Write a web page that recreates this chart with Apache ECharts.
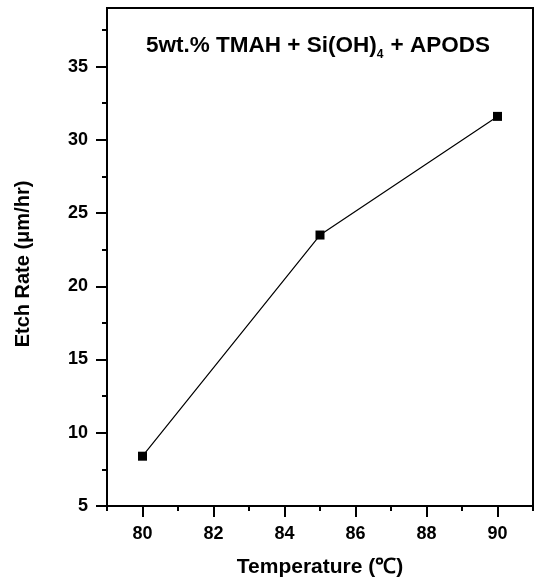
<!DOCTYPE html>
<html>
<head>
<meta charset="utf-8">
<script src="https://cdn.jsdelivr.net/npm/echarts@6/dist/echarts.min.js"></script>
<style>
html,body{margin:0;padding:0;background:#fff;}
#chart{width:538px;height:584px;}
</style>
</head>
<body>
<div id="chart"></div>
<script>
// Data
const temperatures = [80, 85, 90];
const etchRates = [8.4, 23.5, 31.6];
const xMajorTicks = [80, 82, 84, 86, 88, 90];
const xMinorTicks = [79, 81, 83, 85, 87, 89, 91];
const yMajorTicks = [5, 10, 15, 20, 25, 30, 35];
const yMinorTicks = [7.5, 12.5, 17.5, 22.5, 27.5, 32.5, 37.5];
const xName = 'Temperature (℃)';
const yName = 'Etch Rate (μm/hr)';

const FONT = '"Liberation Sans", Arial, Helvetica, sans-serif';
const chart = echarts.init(document.getElementById('chart'), null, {renderer: 'canvas'});

const gridCfg = {left: 107, right: 5, top: 8, bottom: 78};

chart.setOption({
  animation: false,
  backgroundColor: '#fff',
  grid: Object.assign({show: true, borderColor: '#000', borderWidth: 2, backgroundColor: 'transparent', containLabel: false}, gridCfg),
  xAxis: [{
    type: 'value', min: 79, max: 91, interval: 1,
    position: 'bottom',
    name: xName, nameLocation: 'middle', nameGap: 51,
    nameTextStyle: {fontFamily: FONT, fontWeight: 'bold', fontSize: 21, color: '#000'},
    axisLine: {show: true, onZero: false, lineStyle: {color: '#000', width: 2}},
    axisTick: {show: true, inside: false, length: 11, customValues: xMajorTicks, lineStyle: {color: '#000', width: 2}},
    axisLabel: {show: true, customValues: xMajorTicks, margin: 19, fontFamily: FONT, fontWeight: 'bold', fontSize: 18, color: '#000'},
    splitLine: {show: false}
  }, {
    type: 'value', min: 79, max: 91, interval: 1,
    position: 'bottom',
    axisLine: {show: false, onZero: false},
    axisTick: {show: true, inside: false, length: 5, customValues: xMinorTicks, lineStyle: {color: '#000', width: 2}},
    axisLabel: {show: false},
    splitLine: {show: false}
  }],
  yAxis: [{
    type: 'value', min: 5, max: 39, interval: 5,
    position: 'left',
    name: yName, nameLocation: 'middle', nameGap: 74, nameRotate: 90,
    nameTextStyle: {fontFamily: FONT, fontWeight: 'bold', fontSize: 20, color: '#000', padding: [0, 14, 0, 0]},
    axisLine: {show: true, onZero: false, lineStyle: {color: '#000', width: 2}},
    axisTick: {show: true, inside: false, length: 11, customValues: yMajorTicks, lineStyle: {color: '#000', width: 2}},
    axisLabel: {show: true, customValues: yMajorTicks, margin: 19, fontFamily: FONT, fontWeight: 'bold', fontSize: 18, color: '#000'},
    splitLine: {show: false}
  }, {
    type: 'value', min: 5, max: 39, interval: 5,
    position: 'left',
    axisLine: {show: false, onZero: false},
    axisTick: {show: true, inside: false, length: 5, customValues: yMinorTicks, lineStyle: {color: '#000', width: 2}},
    axisLabel: {show: false},
    splitLine: {show: false}
  }],
  series: [{
    type: 'line',
    xAxisIndex: 0, yAxisIndex: 0,
    data: temperatures.map((t, i) => [t, etchRates[i]]),
    symbol: 'rect', symbolSize: 9,
    itemStyle: {color: '#000'},
    lineStyle: {color: '#000', width: 1.2},
    z: 5
  }],
  graphic: [{
    type: 'text',
    left: 146, top: 34,
    style: {
      text: '{a|5wt.% TMAH + Si(OH)}{s|4}{a| + APODS}',
      rich: {
        a: {fontFamily: FONT, fontWeight: 'bold', fontSize: 22.5, fill: '#000', lineHeight: 27, verticalAlign: 'top'},
        s: {fontFamily: FONT, fontWeight: 'bold', fontSize: 12, fill: '#000', lineHeight: 27, verticalAlign: 'bottom', padding: [0, 1, 0, 0]}
      }
    }
  }]
});
</script>
</body>
</html>
